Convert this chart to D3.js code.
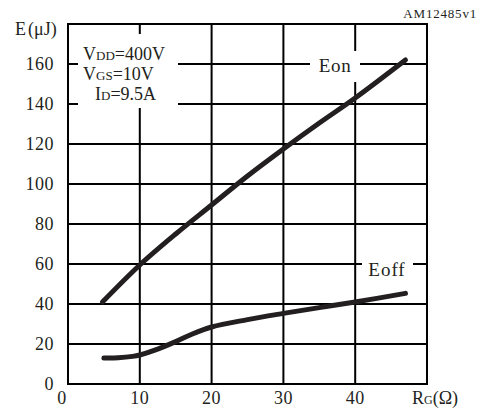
<!DOCTYPE html>
<html><head><meta charset="utf-8">
<script src="https://cdn.jsdelivr.net/npm/d3@7"></script>
<style>body{margin:0;background:#fff}svg{display:block}text{font-family:"Liberation Serif","DejaVu Serif",serif;fill:#231f20}</style>
</head><body><svg id="c" width="480" height="414"></svg>
<script>
const xTicks = [10, 20, 30, 40];
const yTicks = [0, 20, 40, 60, 80, 100, 120, 140, 160];
const eonRg = [4.8, 10, 15, 20, 25, 30, 35, 40, 47];
const eonVal = [41, 59.5, 75, 89.5, 104, 117.5, 130.5, 143, 162];
const eoffRg = [5, 7, 9, 10, 12, 15, 17, 20, 25, 30, 35, 40, 47];
const eoffVal = [13, 13.1, 13.8, 14.5, 16.8, 21.2, 24.5, 28.5, 32.2, 35.3, 38.2, 41, 45.3];

const svg = d3.select("#c");
const x = d3.scaleLinear().domain([0, 50]).range([68, 427]);
const y = d3.scaleLinear().domain([0, 180]).range([384, 24]);

const g = svg.append("g");
g.selectAll(".vg").data(xTicks).join("line")
  .attr("x1", d => x(d)).attr("x2", d => x(d)).attr("y1", y(0)).attr("y2", y(180))
  .attr("stroke", "#000").attr("stroke-width", 2);
g.selectAll(".hg").data(yTicks.filter(d => d > 0)).join("line")
  .attr("x1", x(0)).attr("x2", x(50)).attr("y1", d => y(d)).attr("y2", d => y(d))
  .attr("stroke", "#000").attr("stroke-width", 2);
svg.append("rect").attr("x", x(0)).attr("y", y(180)).attr("width", x(50) - x(0)).attr("height", y(0) - y(180))
  .attr("fill", "none").attr("stroke", "#000").attr("stroke-width", 2);

svg.append("rect").attr("x", 78).attr("y", 34).attr("width", 100).attr("height", 74).attr("fill", "#fff");
svg.append("rect").attr("x", 310).attr("y", 51).attr("width", 50).attr("height", 31).attr("fill", "#fff");
svg.append("rect").attr("x", 362).attr("y", 256).attr("width", 51).attr("height", 26).attr("fill", "#fff");

const line = d3.line().x(d => x(d[0])).y(d => y(d[1])).curve(d3.curveCatmullRom.alpha(0.5));
svg.append("path").datum(d3.zip(eonRg, eonVal)).attr("d", line)
  .attr("fill", "none").attr("stroke", "#231f20").attr("stroke-width", 5).attr("stroke-linecap", "round");
svg.append("path").datum(d3.zip(eoffRg, eoffVal)).attr("d", line)
  .attr("fill", "none").attr("stroke", "#231f20").attr("stroke-width", 5).attr("stroke-linecap", "round");

svg.selectAll(".yl").data(yTicks).join("text")
  .attr("x", 54).attr("y", d => y(d)).attr("dy", "0.35em").attr("text-anchor", "end")
  .attr("font-size", 18).attr("letter-spacing", 0.5).text(d => d);
svg.selectAll(".xl").data([0].concat(xTicks)).join("text")
  .attr("x", d => d === 0 ? 62 : x(d)).attr("y", 404).attr("text-anchor", "middle")
  .attr("font-size", 18).attr("letter-spacing", 0.5).text(d => d);

const et = svg.append("text").attr("x", 15).attr("y", 35).attr("font-size", 18);
et.append("tspan").text("E");
et.append("tspan").attr("dx", 2).text("(μJ)");
const rg = svg.append("text").attr("x", 412).attr("y", 404).attr("font-size", 18);
rg.append("tspan").text("R");
rg.append("tspan").attr("font-size", 12).text("G");
rg.append("tspan").text("(Ω)");
svg.append("text").attr("x", 477).attr("y", 18).attr("text-anchor", "end").attr("font-size", 13)
  .attr("letter-spacing", 0.8).text("AM12485v1");

const cond = [["V", "DD", "=400V", 83, 60], ["V", "GS", "=10V", 83, 80], ["I", "D", "=9.5A", 95, 100]];
cond.forEach(c => {
  const t = svg.append("text").attr("x", c[3]).attr("y", c[4]).attr("font-size", 18);
  t.append("tspan").text(c[0]);
  t.append("tspan").attr("font-size", 13).text(c[1]);
  t.append("tspan").text(c[2]);
});
svg.append("text").attr("x", 335).attr("y", 72).attr("text-anchor", "middle").attr("font-size", 19)
  .attr("letter-spacing", 0.7).text("Eon");
svg.append("text").attr("x", 387).attr("y", 276).attr("text-anchor", "middle").attr("font-size", 19)
  .attr("letter-spacing", 1).text("Eoff");
</script></body></html>
